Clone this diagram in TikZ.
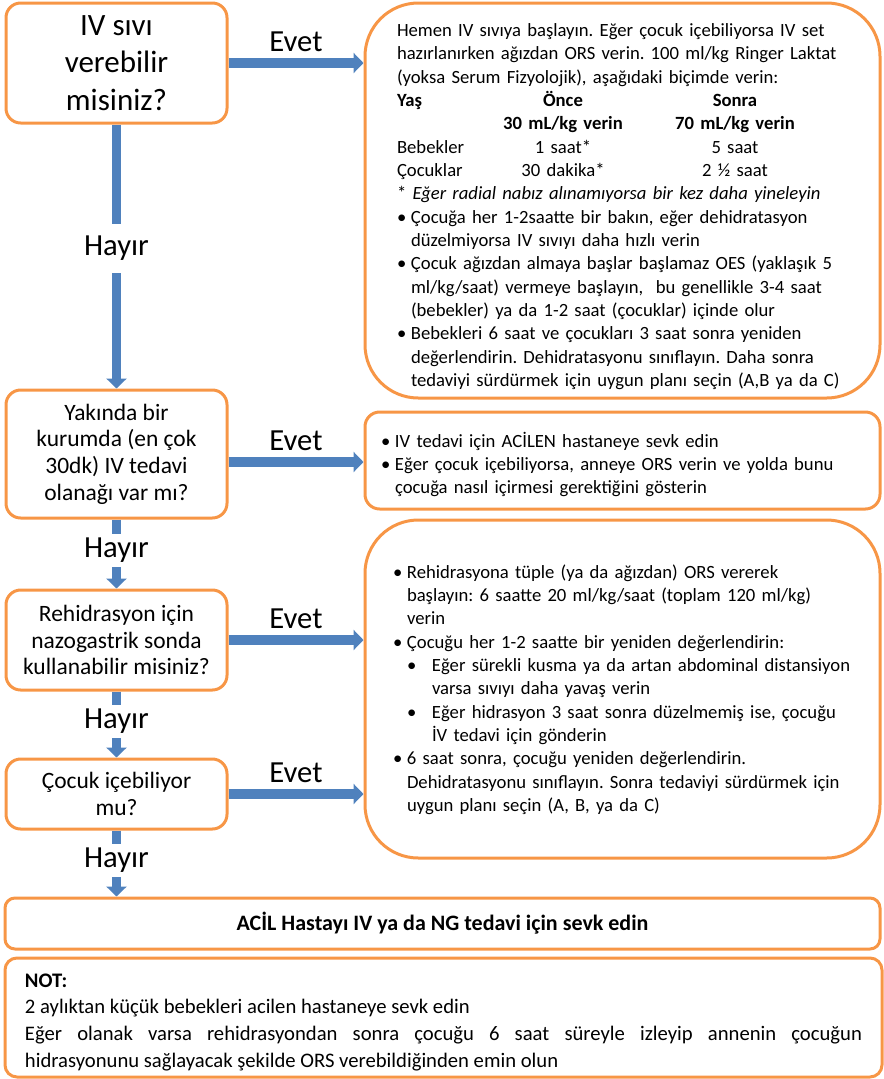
\documentclass[tikz,border=0pt]{standalone}
\usepackage{fontspec}
\setmainfont{Carlito}
\usepackage{tikz}
\usetikzlibrary{arrows.meta}
\definecolor{boxorange}{HTML}{F79646}
\definecolor{flowblue}{HTML}{4F81BD}
\frenchspacing
\newcommand{\fq}{\fontsize{17.6}{20}\selectfont}
\newcommand{\ft}{\fontsize{14}{17.5}\selectfont}
\newcommand{\fbig}{\fontsize{23.25}{28}\selectfont}
\newcommand{\flab}{\fontsize{23}{27}\selectfont}
\newcommand{\fnot}{\fontsize{15.5}{20}\selectfont}
\newcommand{\bul}[1]{\par\hangindent=10.5pt\hangafter=1\makebox[10.5pt][l]{\textbullet}#1}
\newcommand{\subbul}[1]{\par\hangindent=29.25pt\hangafter=1\makebox[29.25pt][l]{\hspace{10.5pt}\textbullet}#1}
\newcommand{\trow}[3]{\makebox[68.25pt][l]{#1}\makebox[112.5pt][c]{#2}\makebox[145.5pt][c]{#3}}

\begin{document}
\begin{tikzpicture}
    [x=0.75pt, y=-0.75pt,
 qbox/.style ={rectangle, draw=boxorange, line width=2.25pt, rounded corners=11pt, align=center, font=\fq, minimum width=165.75pt},
 abox/.style ={rectangle, draw=boxorange, line width=2.25pt, rounded corners=11pt, align=left, inner xsep=12pt, inner ysep=2pt, text width=362.25pt, font=\ft},
 wbox/.style ={rectangle, draw=boxorange, line width=2.25pt, rounded corners=9pt, font=\fnot},
 flow/.style ={draw=flowblue, line width=7pt, -{Triangle[width=15pt,length=7.5pt]}},
 evet/.style ={above=2pt, font=\flab},
 hayir/.style ={fill=white, inner sep=3pt, pos=0.45, font=\flab}]
        \useasboundingbox (0,0) rectangle (883,1079);
        \node[qbox, font=\fbig, minimum height=90pt] (ivq) at (116.5,63) {IV sıvı\\verebilir\\misiniz?};
        \node[qbox, minimum height=96pt] (nearq) at (116.5,454) {Yakında bir\\kurumda (en çok\\30dk) IV tedavi\\olanağı var mı?};
        \node[qbox, minimum height=75pt] (ngq) at (116.5,640) {Rehidrasyon için\\nazogastrik sonda\\kullanabilir misiniz?};
        \node[qbox, minimum height=52.5pt] (drinkq) at (116.5,794) {Çocuk içebiliyor\\mu?};
        \node[abox, rounded corners=40pt, minimum height=296.25pt] (ivplan) at (622.5,200.5) {\leftskip=12pt
            \rule{0pt}{19pt}Hemen IV sıvıya başlayın. Eğer çocuk içebiliyorsa IV set\\
            hazırlanırken ağızdan ORS verin. 100 ml/kg Ringer Laktat\\
            (yoksa Serum Fizyolojik), aşağıdaki biçimde verin:\\
            \trow{\textbf{Yaş}}{\textbf{Önce}}{\textbf{Sonra}}\\
            \trow{}{\textbf{30 mL/kg verin}}{\textbf{70 mL/kg verin}}\\
            \trow{Bebekler}{1 saat*}{5 saat}\\
            \trow{Çocuklar}{30 dakika*}{2 ½ saat}\\
            {*} \textit{Eğer radial nabız alınamıyorsa bir kez daha yineleyin}
            \bul{Çocuğa her 1-2saatte bir bakın, eğer dehidratasyon\newline düzelmiyorsa IV sıvıyı daha hızlı verin}
            \bul{Çocuk ağızdan almaya başlar başlamaz OES (yaklaşık 5\newline ml/kg/saat) vermeye başlayın,\ \ bu genellikle 3-4 saat\newline (bebekler) ya da 1-2 saat (çocuklar) içinde olur}
            \bul{Bebekleri 6 saat ve çocukları 3 saat sonra yeniden\newline değerlendirin. Dehidratasyonu sınıflayın. Daha sonra\newline tedaviyi sürdürmek için uygun planı seçin (A,B ya da C)}\par};
        \node[abox, minimum height=72.75pt] (refer) at (622.5,460.5) {\leftskip=0pt
            \bul{IV tedavi için ACİLEN hastaneye sevk edin}
            \bul{Eğer çocuk içebiliyorsa, anneye ORS verin ve yolda bunu\newline çocuğa nasıl içirmesi gerektiğini gösterin}\par};
        \node[abox, rounded corners=40pt, minimum height=253.5pt] (ngplan) at (622.5,689) {\leftskip=9pt
            \bul{Rehidrasyona tüple (ya da ağızdan) ORS vererek\newline başlayın: 6 saatte 20 ml/kg/saat (toplam 120 ml/kg)\newline verin}
            \bul{Çocuğu her 1-2 saatte bir yeniden değerlendirin:}
            \subbul{Eğer sürekli kusma ya da artan abdominal distansiyon\newline varsa sıvıyı daha yavaş verin}
            \subbul{Eğer hidrasyon 3 saat sonra düzelmemiş ise, çocuğu\newline İV tedavi için gönderin}
            \bul{6 saat sonra, çocuğu yeniden değerlendirin.\newline Dehidratasyonu sınıflayın. Sonra tedaviyi sürdürmek için\newline uygun planı seçin (A, B, ya da C)\rule[-9pt]{0pt}{9pt}}\par};
        \node[wbox, rounded corners=7.5pt, font=\fontsize{16.5}{20}\selectfont\bfseries, minimum width=656.25pt, minimum height=38.25pt] (urgent) at (442.5,923.5) {ACİL Hastayı IV ya da NG tedavi için sevk edin};
        \node[wbox, align=justify, inner xsep=15pt, inner ysep=1pt, text width=627.75pt, minimum height=89.25pt] (note) at (443.5,1017.5) {\rule{0pt}{17pt}\textbf{NOT:}\par
            2 aylıktan küçük bebekleri acilen hastaneye sevk edin\par
            Eğer olanak varsa rehidrasyondan sonra çocuğu 6 saat süreyle izleyip annenin çocuğun\linebreak hidrasyonunu sağlayacak şekilde ORS verebildiğinden emin olun\par};
        \draw[flow] (ivq) -- node[hayir, inner ysep=9pt, pos=0.47] {Hayır} (nearq);
        \draw[flow] (nearq) -- node[hayir] {Hayır} (ngq);
        \draw[flow] (ngq) -- node[hayir] {Hayır} (drinkq);
        \draw[flow] (drinkq) -- node[hayir] {Hayır} (drinkq |- urgent.north);
        \draw[flow] (ivq.east) -- node[evet] {Evet} (ivq.east -| ivplan.west);
        \draw[flow] ([yshift=-6pt]nearq.east) -- node[evet] {Evet} ([yshift=-6pt]nearq.east -| refer.west);
        \draw[flow] (ngq.east) -- node[evet] {Evet} (ngq.east -| ngplan.west);
        \draw[flow] (drinkq.east) -- node[evet] {Evet} (drinkq.east -| ngplan.west);
    \end{tikzpicture}
\end{document}
